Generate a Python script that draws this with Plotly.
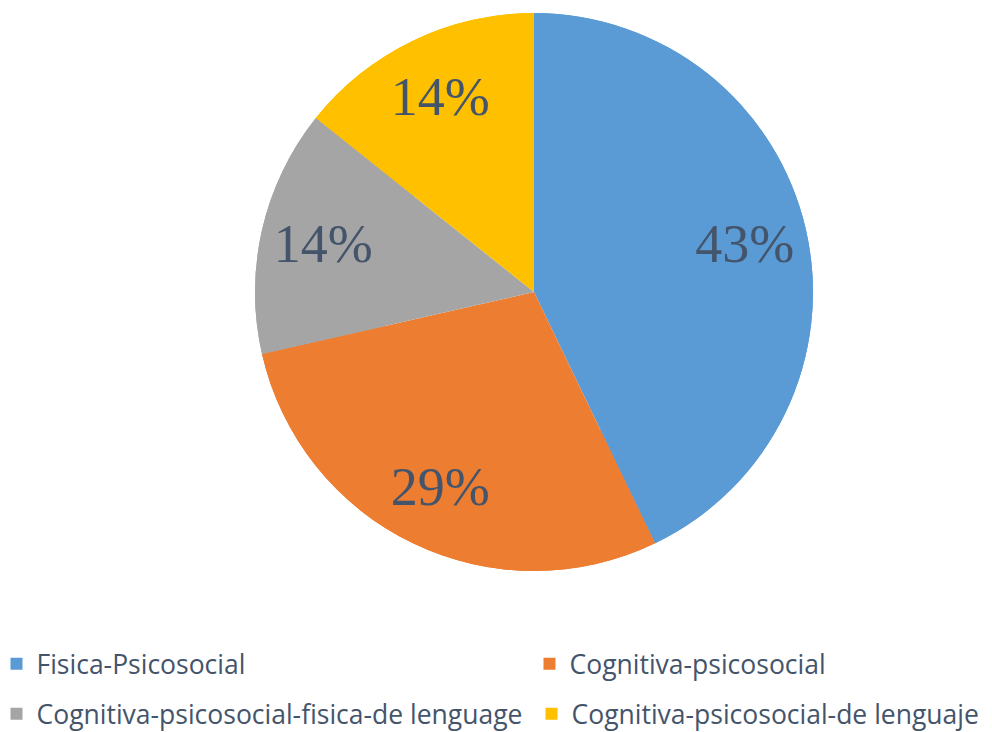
import plotly.graph_objects as go

# data
labels = [
    "Fisica-Psicosocial",
    "Cognitiva-psicosocial",
    "Cognitiva-psicosocial-fisica-de lenguage",
    "Cognitiva-psicosocial-de lenguaje",
]
values = [3, 2, 1, 1]
colors = ["#5b9bd5", "#ed7d31", "#a5a5a5", "#ffc000"]

TEXT = "#44546a"
# page body keeps its default 8px margin, so the figure is 8px smaller
W, H = 984, 724

# pie box in figure pixels (left, right, top, bottom)
PX = (247, 805, 5, 563)
domain = dict(x=[PX[0] / W, PX[1] / W], y=[(H - PX[3]) / H, (H - PX[2]) / H])

pie_common = dict(
    labels=labels,
    values=values,
    sort=False,
    direction="clockwise",
    rotation=0,
    marker=dict(colors=colors, line=dict(width=0)),
    showlegend=False,
    domain=domain,
    hoverinfo="label+percent",
)

fig = go.Figure()

# full pie underneath (no text)
fig.add_trace(go.Pie(textinfo="none", **pie_common))

# ring on top carries the labels so they sit further out, like Excel does
fig.add_trace(
    go.Pie(
        hole=0.55,
        texttemplate="%{percent:.0%}",
        textposition="inside",
        insidetextorientation="horizontal",
        textfont=dict(family="Liberation Serif", size=54, color=TEXT),
        **pie_common,
    )
)

# legend entries, one small legend each so they sit in two columns
legend_pos = [(-11.5, 656), (521.5, 656), (-11.5, 706), (523.5, 706)]
legend_names = ["legend", "legend2", "legend3", "legend4"]

for lab, col, lg in zip(labels, colors, legend_names):
    fig.add_trace(
        go.Scatter(
            x=[None],
            y=[None],
            mode="markers",
            name=lab,
            marker=dict(symbol="square", size=15, color=col),
            legend=lg,
        )
    )

legend_style = dict(
    orientation="h",
    xanchor="left",
    yanchor="middle",
    font=dict(family="Open Sans", size=26.5, color=TEXT),
    bgcolor="rgba(0,0,0,0)",
    itemsizing="constant",
)

layout_legends = {
    lg: dict(legend_style, x=x / W, y=(H - y) / H)
    for lg, (x, y) in zip(legend_names, legend_pos)
}

fig.update_layout(
    width=W,
    height=H,
    paper_bgcolor="white",
    plot_bgcolor="white",
    margin=dict(t=0, b=0, l=0, r=0, autoexpand=False),
    xaxis=dict(visible=False),
    yaxis=dict(visible=False),
    uniformtext=dict(minsize=54, mode="show"),
    **layout_legends,
)

fig.write_html("out.html")
